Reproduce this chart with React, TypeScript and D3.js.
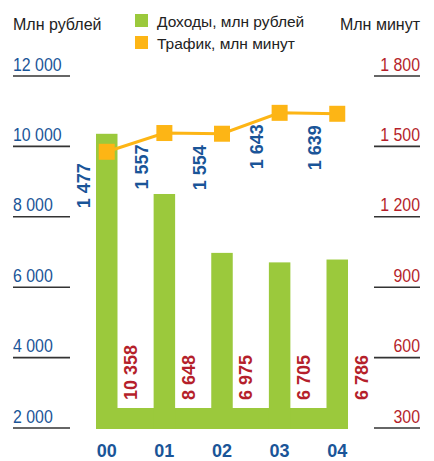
import React from "react";
import * as d3 from "d3";

// chart values
const years = ["00", "01", "02", "03", "04"];
const revenue = [10358, 8648, 6975, 6705, 6786]; // Доходы, млн рублей
const traffic = [1477, 1557, 1554, 1643, 1639]; // Трафик, млн минут
const leftTicks = [2000, 4000, 6000, 8000, 10000, 12000];
const rightTicks = [300, 600, 900, 1200, 1500, 1800];

const GREEN = "#9bc93c";
const ORANGE = "#fdb515";
const BLUE = "#1a5598";
const RED = "#b51f2b";
const FONT = "'Liberation Sans', Arial, sans-serif";

const fmt = (v: number) => d3.format(",")(v).replace(/,/g, " ");

const App = () => {
  const width = 434;
  const height = 461;

  const yLeft = d3.scaleLinear().domain([2000, 12000]).range([428, 76]);
  const yRight = d3.scaleLinear().domain([300, 1800]).range([428, 76]);
  const x = d3.scaleBand().domain(years).range([96, 348]).paddingInner(0.627).paddingOuter(0);
  const bw = x.bandwidth();
  const base = yLeft(2000) + 1;

  const line = d3
    .line<number>()
    .x((_, i) => (x(years[i]) as number) + bw / 2)
    .y((d) => yRight(d));

  return (
    <svg
      width={width}
      height={height}
      style={{ position: "absolute", left: 0, top: 0, background: "#fff" }}
      fontFamily={FONT}
    >
      {/* axis titles */}
      <text x={13} y={30} fontSize={16} fill="#222">Млн рублей</text>
      <text x={420} y={30} fontSize={16} fill="#222" textAnchor="end">Млн минут</text>

      {/* legend */}
      <rect x={135} y={14} width={13} height={13} fill={GREEN} />
      <text x={157} y={26.5} fontSize={15.5} fill="#222">Доходы, млн рублей</text>
      <rect x={135} y={36} width={13} height={13} fill={ORANGE} />
      <text x={157} y={48.5} fontSize={15.5} fill="#222">Трафик, млн минут</text>

      {/* left ticks */}
      {leftTicks.map((t) => (
        <g key={"l" + t}>
          <line x1={13} x2={70} y1={yLeft(t)} y2={yLeft(t)} stroke="#333" strokeWidth={1.6} />
          <text
            transform={`translate(13,${yLeft(t) - 5.5}) scale(0.86,1)`}
            fontSize={18.5}
            fill={BLUE}
          >
            {fmt(t)}
          </text>
        </g>
      ))}

      {/* right ticks */}
      {rightTicks.map((t) => (
        <g key={"r" + t}>
          <line x1={374} x2={420} y1={yRight(t)} y2={yRight(t)} stroke="#333" strokeWidth={1.6} />
          <text
            transform={`translate(420,${yRight(t) - 5.5}) scale(0.86,1)`}
            fontSize={18.5}
            fill={RED}
            textAnchor="end"
          >
            {fmt(t)}
          </text>
        </g>
      ))}

      {/* base band */}
      <rect
        x={x(years[0])}
        y={base - 21}
        width={(x(years[years.length - 1]) as number) + bw - (x(years[0]) as number)}
        height={21}
        fill={GREEN}
      />

      {/* bars */}
      {revenue.map((v, i) => (
        <rect
          key={"b" + i}
          x={x(years[i])}
          y={yLeft(v)}
          width={bw}
          height={base - yLeft(v)}
          fill={GREEN}
        />
      ))}

      {/* revenue labels */}
      {revenue.map((v, i) => {
        const cx = (x(years[i]) as number) + bw + 13;
        return (
          <text
            key={"rv" + i}
            transform={`translate(${cx + 6.5},400) rotate(-90)`}
            fontSize={18}
            fontWeight="bold"
            fill={RED}
          >
            {fmt(v)}
          </text>
        );
      })}

      {/* traffic labels */}
      {traffic.map((v, i) => {
        const cx = (x(years[i]) as number) + bw / 2 - 23;
        return (
          <text
            key={"tv" + i}
            transform={`translate(${cx + 6.5},${yRight(v) + 34}) rotate(-90)`}
            fontSize={18}
            fontWeight="bold"
            fill={BLUE}
            textAnchor="middle"
          >
            {fmt(v)}
          </text>
        );
      })}

      {/* traffic line */}
      <path d={line(traffic) || ""} fill="none" stroke={ORANGE} strokeWidth={3} />
      {traffic.map((v, i) => (
        <rect
          key={"p" + i}
          x={(x(years[i]) as number) + bw / 2 - 8}
          y={yRight(v) - 8}
          width={16}
          height={16}
          fill={ORANGE}
        />
      ))}

      {/* x labels */}
      {years.map((y) => (
        <text
          key={"x" + y}
          x={(x(y) as number) + bw / 2}
          y={457}
          fontSize={18}
          fontWeight="bold"
          fill={BLUE}
          textAnchor="middle"
        >
          {y}
        </text>
      ))}
    </svg>
  );
};

export default App;
